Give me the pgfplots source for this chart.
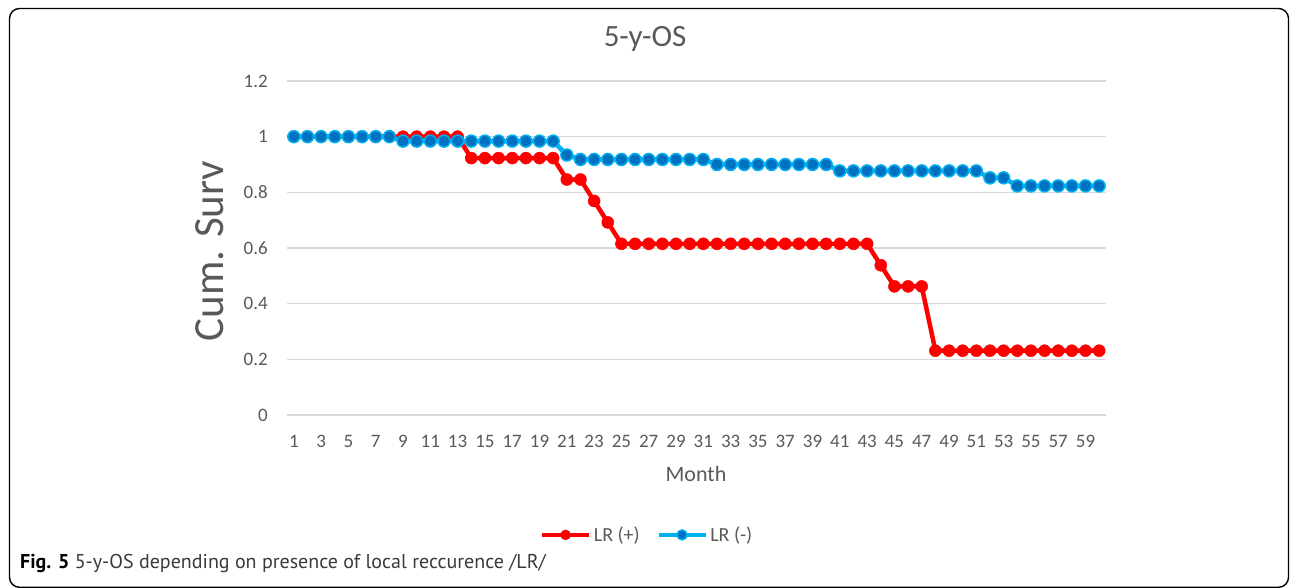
\documentclass[border=0pt]{standalone}
\usepackage{fontspec}
\setmainfont{Carlito}
\newfontfamily\capfont{PT Sans}
\usepackage{pgfplots}
\pgfplotsset{compat=1.18}
\definecolor{txtgray}{HTML}{595959}
\definecolor{gridgray}{HTML}{D9D9D9}
\definecolor{lrpos}{HTML}{FF0000}
\definecolor{lrneg}{HTML}{00B0F0}
\definecolor{lrnegfill}{HTML}{0070C0}
\definecolor{captxt}{HTML}{3A3A3A}

\begin{document}
\begin{tikzpicture}[x=1pt,y=1pt]
  \path[use as bounding box] (0,0) rectangle (1290,588);
  \draw[line width=1.4pt, rounded corners=10pt] (9.5,0.7) rectangle (1288.5,579.5);

  \begin{axis}[
    at={(287pt,173pt)}, anchor=south west,
    scale only axis, width=819pt, height=334pt,
    xmin=0.5, xmax=60.5, ymin=0, ymax=1.2,
    xtick={1,3,...,59},
    ytick={0,0.2,0.4,0.6,0.8,1,1.2},
    yticklabels={0,0.2,0.4,0.6,0.8,1,1.2},
    /pgf/number format/assume math mode=true,
    ymajorgrids,
    grid style={gridgray, line width=1.3pt},
    axis line style={draw=none},
    major tick length=0pt,
    tick style={draw=none},
    ticklabel style={font=\fontsize{19}{22}\selectfont, text=txtgray, inner sep=0pt},
    yticklabel style={anchor=east, xshift=-19pt},
    xticklabel style={anchor=north, yshift=-20pt},
    clip=false,
    legend columns=2,
    legend style={at={(0.44,-0.359)}, anchor=center, draw=none, fill=none,
      font=\fontsize{20}{24}\selectfont, text=txtgray,
      nodes={inner sep=2.5pt},
      /tikz/every even column/.append style={column sep=14pt}},
    legend image code/.code={
      \draw[#1, mark repeat=2, mark phase=2, mark size=5pt]
        plot coordinates {(0pt,0pt) (23.5pt,0pt) (47pt,0pt)};},
  ]
    % LR (+)
    \addplot[lrpos, line width=4.5pt, mark=*, mark size=6pt,
      mark options={fill=lrpos, draw=lrpos, line width=0.5pt}]
    coordinates {
      (1,1) (2,1) (3,1) (4,1) (5,1) (6,1) (7,1) (8,1) (9,1) (10,1)
      (11,1) (12,1) (13,1)
      (14,0.923) (15,0.923) (16,0.923) (17,0.923) (18,0.923) (19,0.923) (20,0.923)
      (21,0.846) (22,0.846) (23,0.769) (24,0.692)
      (25,0.615) (26,0.615) (27,0.615) (28,0.615) (29,0.615) (30,0.615)
      (31,0.615) (32,0.615) (33,0.615) (34,0.615) (35,0.615) (36,0.615)
      (37,0.615) (38,0.615) (39,0.615) (40,0.615) (41,0.615) (42,0.615)
      (43,0.615)
      (44,0.538) (45,0.462) (46,0.462) (47,0.462)
      (48,0.231) (49,0.231) (50,0.231) (51,0.231) (52,0.231) (53,0.231)
      (54,0.231) (55,0.231) (56,0.231) (57,0.231) (58,0.231) (59,0.231)
      (60,0.231)
    };
    \addlegendentry{LR (+)}
    % LR (-)
    \addplot[lrneg, line width=4.5pt, mark=*, mark size=6pt,
      mark options={fill=lrnegfill, draw=lrneg, line width=1.5pt}]
    coordinates {
      (1,1) (2,1) (3,1) (4,1) (5,1) (6,1) (7,1) (8,1)
      (9,0.984) (10,0.984) (11,0.984) (12,0.984) (13,0.984) (14,0.984)
      (15,0.984) (16,0.984) (17,0.984) (18,0.984) (19,0.984) (20,0.984)
      (21,0.934)
      (22,0.918) (23,0.918) (24,0.918) (25,0.918) (26,0.918) (27,0.918)
      (28,0.918) (29,0.918) (30,0.918) (31,0.918)
      (32,0.900) (33,0.900) (34,0.900) (35,0.900) (36,0.900) (37,0.900)
      (38,0.900) (39,0.900) (40,0.900)
      (41,0.877) (42,0.877) (43,0.877) (44,0.877) (45,0.877) (46,0.877)
      (47,0.877) (48,0.877) (49,0.877) (50,0.877) (51,0.877)
      (52,0.852) (53,0.852)
      (54,0.823) (55,0.823) (56,0.823) (57,0.823) (58,0.823) (59,0.823)
      (60,0.823)
    };
    \addlegendentry{LR (-)}
  \end{axis}

  \node[anchor=base, text=txtgray, font=\fontsize{31}{36}\selectfont] at (645,541) {5-y-OS};
  \node[anchor=base, rotate=90, text=txtgray, font=\fontsize{43}{50}\selectfont] at (223,337) {Cum. Surv};
  \node[anchor=base, text=txtgray, font=\fontsize{22}{26}\selectfont] at (696,106) {Month};
  \node[anchor=base west, inner sep=0pt, text=captxt, font=\capfont\fontsize{20}{24}\selectfont]
    at (20,19) {\textcolor{black}{\bfseries Fig. 5} 5-y-OS depending on presence of local reccurence /LR/};
\end{tikzpicture}
\end{document}
